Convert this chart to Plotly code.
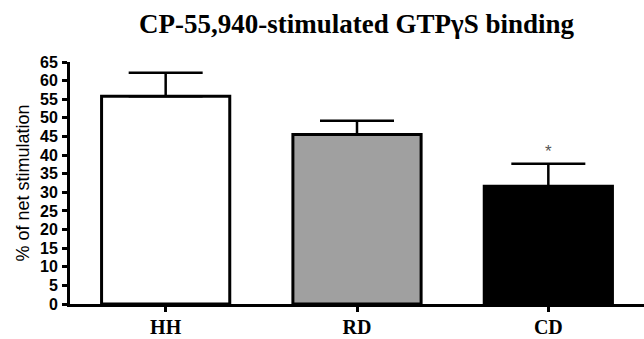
import plotly.graph_objects as go

categories = ["HH", "RD", "CD"]
values = [55.8, 45.5, 31.6]
errors_upper = [6.3, 3.7, 6.1]
bar_colors = ["#ffffff", "#a0a0a0", "#000000"]
y_ticks = list(range(0, 70, 5))

fig = go.Figure()
fig.add_trace(go.Bar(
    x=categories, y=values, width=0.67,
    marker=dict(color=bar_colors, line=dict(color="black", width=3)),
    error_y=dict(type="data", array=errors_upper, arrayminus=[0, 0, 0],
                 symmetric=False, color="black", thickness=2.5, width=37),
))
fig.add_annotation(x="CD", y=values[2] + errors_upper[2], yshift=12, text="*",
                   showarrow=False, font=dict(family="Liberation Sans", size=17, color="#555555"))

fig.update_layout(
    width=644, height=339,
    margin=dict(l=70, r=0, t=62, b=35, autoexpand=False),
    paper_bgcolor="white", plot_bgcolor="white",
    showlegend=False,
    title=dict(text="<b>CP-55,940-stimulated GTPγS binding</b>",
               x=0.5536, xanchor="center", y=0.93, yanchor="middle",
               font=dict(family="Liberation Serif", size=27, color="black")),
    xaxis=dict(range=[-0.5, 2.5], showline=True, linecolor="black", linewidth=3,
               ticks="outside", ticklen=5, tickwidth=2.5, tickcolor="black",
               ticklabelstandoff=-2, automargin=False,
               tickfont=dict(family="Liberation Serif", size=20, color="black", weight="bold"),
               showgrid=False, zeroline=False),
    yaxis=dict(range=[0, 65], tickvals=y_ticks, showline=True, linecolor="black", linewidth=3,
               ticks="outside", ticklen=5, tickwidth=2.5, tickcolor="black",
               automargin=False, ticklabelstandoff=1,
               tickfont=dict(family="Liberation Sans", size=16, color="black", weight="bold"),
               title=dict(text="% of net stimulation", standoff=6,
                          font=dict(family="Liberation Sans", size=18, color="black")),
               showgrid=False, zeroline=False),
)
fig.write_html(
    "out.html",
    config={"displayModeBar": False},
    post_script="document.body.style.margin='0';document.body.style.overflow='hidden';",
)
